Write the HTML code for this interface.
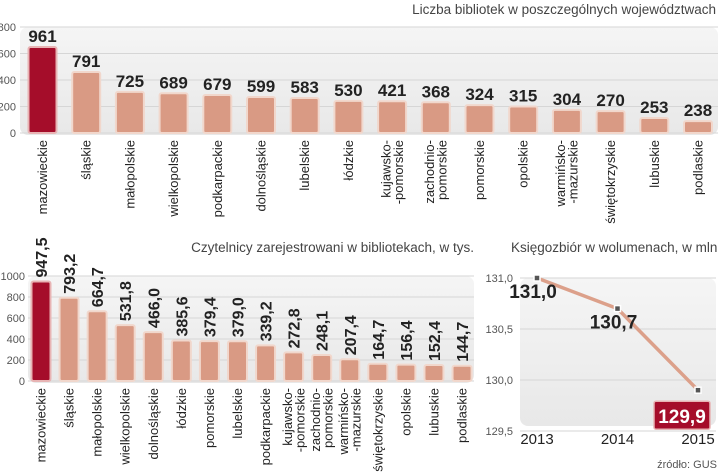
<!DOCTYPE html>
<html><head><meta charset="utf-8"><style>
html,body{margin:0;padding:0;background:#fff;width:720px;height:472px;overflow:hidden}
svg{display:block}
text{font-family:"Liberation Sans",sans-serif}
.tick{font-size:11px;fill:#555}
.cat{font-size:13px;fill:#222}
.val{font-family:"Liberation Sans Narrow","Liberation Sans",sans-serif;font-weight:bold;fill:#222}
.title{font-size:13.5px;fill:#444}
</style></head><body>
<svg id="chart" width="720" height="472">
<defs>
<linearGradient id="bg" x1="0" y1="0" x2="0" y2="1"><stop offset="0" stop-color="#f5f5f5"/><stop offset="1" stop-color="#e8e8e8"/></linearGradient>
</defs>
<text class="title" x="716" y="14" text-anchor="end">Liczba bibliotek w poszczególnych województwach</text>
<text class="title" x="474" y="252" text-anchor="end">Czytelnicy zarejestrowani w bibliotekach, w tys.</text>
<text class="title" x="511" y="252">Księgozbiór  w wolumenach, w mln</text>
<text x="717" y="468" text-anchor="end" style="font-size:11px;fill:#555">źródło: GUS</text>
<g id="g1"></g><g id="g2"></g><g id="g3"></g>
</svg>
<script>
const libCats=["mazowieckie","śląskie","małopolskie","wielkopolskie","podkarpackie","dolnośląskie","lubelskie","łódzkie","kujawsko-|-pomorskie","zachodnio-|pomorskie","pomorskie","opolskie","warmińsko-|-mazurskie","świętokrzyskie","lubuskie","podlaskie"];
const libLabels=["961","791","725","689","679","599","583","530","421","368","324","315","304","270","253","238"];
const libBarValues=[649,460,310,300,287,272,264,242,240,232,210,200,175,165,113,90];
const libTicks=[0,200,400,600,800];

const rdCats=["mazowieckie","śląskie","małopolskie","wielkopolskie","dolnośląskie","łódzkie","pomorskie","lubelskie","podkarpackie","kujawsko-|-pomorskie","zachodnio-|pomorskie","warmińsko-|-mazurskie","świętokrzyskie","opolskie","lubuskie","podlaskie"];
const rdValues=[947.5,793.2,664.7,531.8,466.0,385.6,379.4,379.0,339.2,272.8,248.1,207.4,164.7,156.4,152.4,144.7];
const rdTicks=[0,200,400,600,800,1000];

const bkYears=["2013","2014","2015"];
const bkValues=[131.0,130.7,129.9];
const bkTicks=[129.5,130.0,130.5,131.0];

const NS="http://www.w3.org/2000/svg";
function mk(p,tag,a){const e=document.createElementNS(NS,tag);for(const k in a)e.setAttribute(k,a[k]);p.appendChild(e);return e;}
const fmt=v=>v.toFixed(1).replace('.',',');

function barChart(g,cats,vals,labels,ticks,o){
  const y=v=>o.y0-(v-0)*(o.y0-o.yTop)/(ticks[ticks.length-1]);
  const x=i=>o.c0+i*o.pitch;
  const bg=mk(g,'rect',{x:o.px,y:o.py,width:o.pw,height:o.y0-o.py+2,rx:8,fill:'url(#bg)'});
  
  
  ticks.forEach(t=>{
    const l=mk(g,'line',{x1:o.px,x2:o.px+o.pw,y1:y(t),y2:y(t),stroke:'#d6d6d6','stroke-width':1});
    
    
    const tx=mk(g,'text',{x:o.tx,y:y(t)+4,'text-anchor':'end',class:'tick'});tx.textContent=String(t);
    
    
  });
  vals.forEach((v,i)=>{
    const top=y(v),cx=x(i);
    const r=mk(g,'rect',{x:cx-o.bw/2,y:top,width:o.bw,height:o.y0-top,rx:2,fill:i==0?'#a50d2a':'#d99a84',stroke:i==0?'#e8b4b4':'#f1d7cc','stroke-width':2});
    
    
    const lab=mk(g,'text',{class:'val'});
    lab.textContent=labels[i];
    if(o.rotLabels){lab.setAttribute('transform',`translate(${cx+6},${top-4}) rotate(-90)`);lab.setAttribute('style','font-size:16px');}
    else{lab.setAttribute('x',cx);lab.setAttribute('y',top-5);lab.setAttribute('text-anchor','middle');lab.setAttribute('style','font-size:17px');}
    
    
    const parts=cats[i].split('|');
    parts.forEach((p,j)=>{
      const off=(j-(parts.length-1)/2)*12.5;
      const c=mk(g,'text',{class:'cat','text-anchor':'end',transform:`translate(${cx+4.5+off},${o.y0+7}) rotate(-90)`});
      c.textContent=p;
      
      
    });
  });
}
barChart(document.getElementById('g1'),libCats,libBarValues,libLabels,libTicks,{y0:133,yTop:27,c0:42.5,pitch:43.7,bw:28,px:20,py:27,pw:698,tx:16});
barChart(document.getElementById('g2'),rdCats,rdValues,rdValues.map(fmt),rdTicks,{y0:381,yTop:276,c0:41,pitch:28.07,bw:19,px:28,py:276,pw:446,tx:25,rotLabels:true});

(function(){
  const g=document.getElementById('g3');
  const y=v=>278+(131.0-v)*102;
  const x=i=>537+i*80.5;
  const bg=mk(g,'rect',{x:520,y:278,width:196,height:148,rx:8,fill:'url(#bg)'});
  
  
  bkTicks.forEach(t=>{
    const l=mk(g,'line',{x1:520,x2:716,y1:y(t),y2:y(t),stroke:'#d6d6d6'});
    
    
    const tx=mk(g,'text',{x:513,y:y(t)+4,'text-anchor':'end',class:'tick'});tx.textContent=fmt(t);
    
    
  });
  bkYears.forEach((yr,i)=>{
    const t=mk(g,'text',{x:x(i),y:444,'text-anchor':'middle',style:'font-size:15px;fill:#222'});t.textContent=yr;
    
    
  });
  const pl=mk(g,'polyline',{points:bkValues.map((v,i)=>x(i)+','+y(v)).join(' '),fill:'none',stroke:'#dca08a','stroke-width':3.5});
  
  
  bkValues.forEach((v,i)=>{
    const m=mk(g,'rect',{x:x(i)-3,y:y(v)-3,width:6,height:6,fill:'#555',stroke:'#fff','stroke-width':1.5});
    
    
    const last=i==bkValues.length-1;
    if(last){
      const b=mk(g,'rect',{x:x(i)-44,y:y(v)+11,width:56,height:28,rx:2,fill:'#a50d2a',stroke:'#e8b4b4','stroke-width':1.5});
      
      
    }
    const t=mk(g,'text',{class:'val',x:last?x(i)-16:x(i)-4,y:last?y(v)+33:y(v)+20,'text-anchor':'middle',style:'font-size:19px'+(last?';fill:#fff':'')});
    t.textContent=fmt(v);
    
    
  });
})();
</script>
</body></html>
